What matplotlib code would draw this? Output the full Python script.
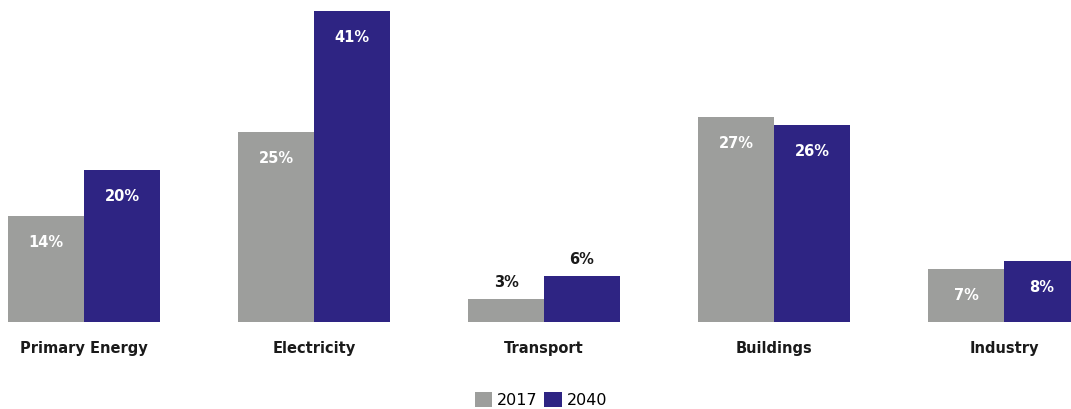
import numpy as np
import matplotlib.pyplot as plt

categories = ['Primary Energy', 'Electricity', 'Transport', 'Buildings', 'Industry']
share_2017 = [14, 25, 3, 27, 7]
share_2040 = [20, 41, 6, 26, 8]
years = ['2017', '2040']

gray = '#9d9e9c'
purple = '#2e2483'

fig = plt.figure(figsize=(10.71, 4.09), dpi=100)
ax = fig.add_axes([0, (409 - 322) / 409, 1, 311 / 409])

x = np.arange(len(categories))
w = 0.33
b1 = ax.bar(x - w / 2, share_2017, w, color=gray, label=years[0])
b2 = ax.bar(x + w / 2, share_2040, w, color=purple, label=years[1])

ax.set_xlim((0 - 84) / 230, (1071 - 84) / 230)
ax.set_ylim(0, 41)
for s in ax.spines.values():
    s.set_visible(False)
ax.set_yticks([])
ax.set_xticks(x)
ax.set_xticklabels(categories, fontsize=10.5, fontweight='bold', color='#1a1a1a')
ax.tick_params(axis='x', length=0, pad=14)

# value labels: white inside tall bars, dark above the short ones
for bars in (b1, b2):
    for rect in bars:
        h = rect.get_height()
        cx = rect.get_x() + rect.get_width() / 2
        if h >= 7:
            ax.annotate(f'{h:.0f}%', (cx, h), xytext=(0, -19), textcoords='offset points',
                        ha='center', va='center', color='white', fontsize=10.5, fontweight='bold')
        else:
            ax.annotate(f'{h:.0f}%', (cx, h), xytext=(0, 12), textcoords='offset points',
                        ha='center', va='center', color='#1a1a1a', fontsize=10.5, fontweight='bold')

fig.legend(loc='center', bbox_to_anchor=(0.505, 0.022), ncol=2, frameon=False,
           fontsize=11.5, handlelength=1.1, handleheight=1.1, handletextpad=0.3,
           columnspacing=0.4, borderaxespad=0)

fig.savefig('out.png', dpi=100)
